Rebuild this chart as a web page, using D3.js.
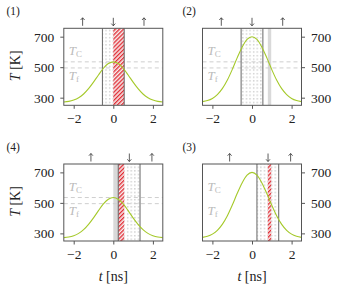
<!DOCTYPE html>
<html>
<head>
<meta charset="utf-8">
<script src="https://cdn.jsdelivr.net/npm/d3@7"></script>
<style>
  body { margin: 0; background: #fff; }
  svg { display: block; }
  text { font-family: "Liberation Serif", "DejaVu Serif", serif; fill: #222; }
</style>
</head>
<body>
<svg id="chart" width="338" height="290"></svg>
<script>
// time grid [ns] and temperature profiles [K]
const times = [-2.5, -2.25, -2, -1.75, -1.5, -1.25, -1, -0.75, -0.5, -0.25, 0,
               0.25, 0.5, 0.75, 1, 1.25, 1.5, 1.75, 2, 2.25, 2.5];
const tempLow = [272, 276, 285, 300, 324, 359, 402, 449, 493, 524, 535,
                 524, 493, 449, 402, 359, 324, 300, 285, 276, 272];
const tempHigh = [274, 281, 295, 320, 359, 414, 484, 561, 631, 682, 700,
                  682, 631, 561, 484, 414, 359, 320, 295, 281, 274];

const xTicks = [-2, 0, 2];
const yTicks = [300, 500, 700];
const T_C = 535;
const T_F = 495;

// panels in page order: (1) (2) / (4) (3)
const panelLabels = ["(1)", "(2)", "(4)", "(3)"];
const panelCurves = [tempLow, tempHigh, tempLow, tempHigh];
const windows = [[-0.55, 0.55], [-0.55, 0.55], [0.25, 1.35], [0.25, 1.35]];
const hatched = [[0, 0.55], null, [0.25, 0.55], [0.8, 0.97]];
const grayBands = [null, [0.8, 0.97], [0, 0.25], null];
const showDashed = [true, true, true, false];
const arrowTimes = [[-1.55, 0, 1.55], [-1.55, 0, 1.55], [-1.13, 0.81, 1.95], [-1.13, 0.81, 1.95]];
const arrowDirs = ["up", "down", "up"];

const svg = d3.select("#chart");
const W = 99, H = 77;
const layout = [
  { left: 63.8, top: 28.3, side: "left", xlab: false },
  { left: 202.5, top: 28.3, side: "right", xlab: false },
  { left: 63.8, top: 164, side: "left", xlab: true },
  { left: 202.5, top: 164, side: "right", xlab: true }
];

// patterns
const defs = svg.append("defs");
const dots = defs.append("pattern")
  .attr("id", "dots").attr("patternUnits", "userSpaceOnUse")
  .attr("width", 3.6).attr("height", 3.6);
dots.append("rect").attr("width", 3.6).attr("height", 3.6).attr("fill", "#fff");
dots.append("rect").attr("x", 1).attr("y", 1).attr("width", 1.3).attr("height", 1.3).attr("fill", "#c6c6c6");

const hatch = defs.append("pattern")
  .attr("id", "hatch").attr("patternUnits", "userSpaceOnUse")
  .attr("width", 2.9).attr("height", 2.9)
  .attr("patternTransform", "rotate(45)");
hatch.append("rect").attr("width", 2.9).attr("height", 2.9).attr("fill", "#f6eeee");
hatch.append("line").attr("x1", 0.7).attr("x2", 0.7).attr("y1", 0).attr("y2", 2.9)
  .attr("stroke", "#e0141e").attr("stroke-width", 1.2);

layout.forEach((p, i) => {
  const x = d3.scaleLinear().domain([-2.5, 2.5]).range([p.left, p.left + W]);
  const y = d3.scaleLinear().domain([250, 755]).range([p.top + H, p.top]);
  const g = svg.append("g");

  const clip = "clip" + i;
  defs.append("clipPath").attr("id", clip)
    .append("rect").attr("x", p.left).attr("y", p.top).attr("width", W).attr("height", H);
  const plot = g.append("g").attr("clip-path", `url(#${clip})`);

  // time window, dotted
  const win = windows[i];
  plot.append("rect")
    .attr("x", x(win[0])).attr("width", x(win[1]) - x(win[0]))
    .attr("y", p.top).attr("height", H)
    .attr("fill", "url(#dots)");

  if (grayBands[i]) {
    const b = grayBands[i];
    plot.append("rect")
      .attr("x", x(b[0])).attr("width", x(b[1]) - x(b[0]))
      .attr("y", p.top).attr("height", H)
      .attr("fill", "#d9d9d9");
  }

  if (showDashed[i]) {
    plot.selectAll(".dash").data([T_C, T_F]).enter().append("line")
      .attr("x1", p.left).attr("x2", p.left + W)
      .attr("y1", d => y(d)).attr("y2", d => y(d))
      .attr("stroke", "#cfcfcf").attr("stroke-width", 1)
      .attr("stroke-dasharray", "4,3");
  }

  if (hatched[i]) {
    const h = hatched[i];
    plot.append("rect")
      .attr("x", x(h[0])).attr("width", x(h[1]) - x(h[0]))
      .attr("y", p.top).attr("height", H)
      .attr("fill", "url(#hatch)");
  }

  // window edges
  plot.selectAll(".edge").data(win).enter().append("line")
    .attr("x1", d => x(d)).attr("x2", d => x(d))
    .attr("y1", p.top).attr("y2", p.top + H)
    .attr("stroke", "#666").attr("stroke-width", 1);

  // T_C / T_f labels
  const lab = (val, sub) => {
    const t = g.append("text").attr("x", p.left + 5).attr("y", y(val))
      .style("fill", "#bbb").attr("font-size", 13);
    t.append("tspan").attr("font-style", "italic").style("fill", "#bbb").text("T");
    t.append("tspan").attr("font-size", 9).attr("dy", 2).style("fill", "#bbb").text(sub);
  };
  lab(580, "C");
  lab(418, "f");

  // temperature curve
  const line = d3.line().x((d, j) => x(times[j])).y(d => y(d)).curve(d3.curveMonotoneX);
  plot.append("path").datum(panelCurves[i])
    .attr("d", line)
    .attr("fill", "none").attr("stroke", "#a5c92a").attr("stroke-width", 1.1);

  // frame
  g.append("rect").attr("x", p.left).attr("y", p.top).attr("width", W).attr("height", H)
    .attr("fill", "none").attr("stroke", "#555").attr("stroke-width", 1);

  // axes
  const xAxis = g.append("g").attr("transform", `translate(0,${p.top + H})`)
    .call(d3.axisBottom(x).tickValues(xTicks).tickSize(3.5).tickPadding(5)
      .tickFormat(d => d < 0 ? "\u2212" + Math.abs(d) : d));
  const yAxisGen = p.side === "left" ? d3.axisLeft(y) : d3.axisRight(y);
  const yAxis = g.append("g")
    .attr("transform", `translate(${p.side === "left" ? p.left : p.left + W},0)`)
    .call(yAxisGen.tickValues(yTicks).tickSize(3.5).tickPadding(6));
  [xAxis, yAxis].forEach(a => {
    a.attr("font-family", null);
    a.select(".domain").remove();
    a.selectAll(".tick line").attr("stroke", "#555");
    a.selectAll(".tick text").attr("font-size", 13.5)
      .attr("font-family", "Liberation Serif, serif").style("fill", "#222");
  });

  // arrows above panel
  const ay = p.top - 6.5;
  g.selectAll(".arrow").data(arrowTimes[i]).enter().append("path")
    .attr("d", (d, j) => {
      const ax = x(d);
      if (arrowDirs[j] === "up") {
        return `M${ax},${ay + 4}V${ay - 4}M${ax - 2},${ay - 1.8}L${ax},${ay - 4}L${ax + 2},${ay - 1.8}`;
      }
      return `M${ax},${ay - 4}V${ay + 4}M${ax - 2},${ay + 1.8}L${ax},${ay + 4}L${ax + 2},${ay + 1.8}`;
    })
    .attr("fill", "none").attr("stroke", "#333").attr("stroke-width", 0.8);

  // panel number
  g.append("text").attr("x", p.side === "left" ? 6.5 : 182.5)
    .attr("y", p.top - 13.5).attr("font-size", 11.5).text(panelLabels[i]);

  if (p.side === "left") {
    const yl = g.append("text")
      .attr("transform", `translate(19.5,${p.top + H / 2 - 1}) rotate(-90)`)
      .attr("text-anchor", "middle").attr("font-size", 14);
    yl.append("tspan").attr("font-style", "italic").text("T");
    yl.append("tspan").text(" [K]");
  }

  if (p.xlab) {
    const xl = g.append("text").attr("x", x(0)).attr("y", p.top + H + 40)
      .attr("text-anchor", "middle").attr("font-size", 14);
    xl.append("tspan").attr("font-style", "italic").text("t");
    xl.append("tspan").text(" [ns]");
  }
});
</script>
</body>
</html>
